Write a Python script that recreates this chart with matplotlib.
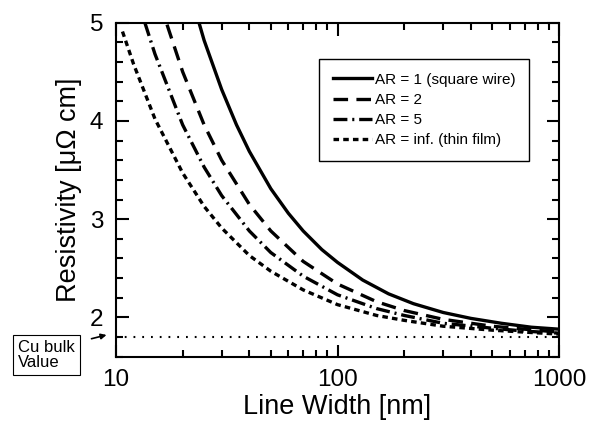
import numpy as np
import matplotlib
matplotlib.use("Agg")
import matplotlib.pyplot as plt

plt.rcParams['font.family'] = ['Liberation Sans', 'DejaVu Sans']
plt.rcParams['lines.scale_dashes'] = False

# values (line width in nm, resistivity in uOhm cm)
w_ar1 = [23.7, 25, 30, 35, 40, 50, 60, 70, 85, 100, 130, 170, 220, 300, 400, 550, 750, 1000]
r_ar1 = [5.0, 4.82, 4.32, 3.96, 3.69, 3.31, 3.06, 2.88, 2.69, 2.56, 2.38, 2.24, 2.14, 2.05, 1.99, 1.94, 1.90, 1.88]

w_ar2 = [17, 20, 25, 30, 40, 50, 70, 100, 150, 200, 300, 500, 700, 1000]
r_ar2 = [4.98, 4.5, 3.96, 3.6, 3.15, 2.88, 2.57, 2.34, 2.16, 2.07, 1.98, 1.91, 1.88, 1.85]

w_ar5 = [13.5, 15, 20, 25, 30, 40, 50, 70, 100, 150, 200, 300, 500, 700, 1000]
r_ar5 = [5.0, 4.68, 3.96, 3.53, 3.24, 2.88, 2.66, 2.42, 2.23, 2.09, 2.02, 1.94, 1.89, 1.86, 1.84]

w_inf = [10.7, 12, 15, 20, 25, 30, 40, 50, 70, 100, 150, 200, 300, 500, 700, 1000]
r_inf = [4.91, 4.58, 4.02, 3.47, 3.13, 2.91, 2.63, 2.47, 2.28, 2.13, 2.02, 1.97, 1.91, 1.87, 1.85, 1.83]

cu_bulk = 1.8

labels = ['AR = 1 (square wire)', 'AR = 2', 'AR = 5', 'AR = inf. (thin film)']

fig = plt.figure(figsize=(6, 4.28), dpi=100)
ax = fig.add_axes([0.1933, 0.1666, 0.7384, 0.7804])

lw = 2.4
ax.plot(w_ar1, r_ar1, color='black', lw=lw, label=labels[0])
ax.plot(w_ar2, r_ar2, color='black', lw=lw, dashes=(10.5, 6), label=labels[1])
ax.plot(w_ar5, r_ar5, color='black', lw=lw, dashes=(10, 3.5, 1.5, 3.5), label=labels[2])
ax.plot(w_inf, r_inf, color='black', lw=lw, dashes=(4, 3), label=labels[3])
ax.axhline(cu_bulk, color='black', lw=1.5, dashes=(1.3, 5))

ax.set_xscale('log')
ax.set_xlim(10, 1000)
ax.set_ylim(1.6, 5)
ax.set_yticks([2, 3, 4, 5])
ax.set_yticks(np.arange(1.6, 5.01, 0.2), minor=True)

for s in ax.spines.values():
    s.set_linewidth(1.5)
ax.tick_params(which='both', direction='in', top=True, right=True, width=1.5)
ax.tick_params(which='major', length=9, labelsize=17.5, pad=9)
ax.tick_params(which='minor', length=5)
ax.xaxis.set_major_formatter(matplotlib.ticker.FuncFormatter(lambda v, p: f"{v:g}"))

ax.set_xlabel('Line Width [nm]', fontsize=19.5, labelpad=2)
ax.set_ylabel('Resistivity [\u03bc\u03a9 cm]', fontsize=19.5, labelpad=6)

leg = ax.legend(loc='upper right', bbox_to_anchor=(0.932, 0.891), fontsize=11,
                handlelength=2.6, handletextpad=0.15, labelspacing=0.4,
                borderpad=0.9, borderaxespad=0, fancybox=False, framealpha=1,
                edgecolor='black')
leg.get_frame().set_linewidth(1.0)

fig.text(0.03, 0.135, 'Cu bulk\nValue', fontsize=12, va='bottom', ha='left',
         linespacing=1.05,
         bbox=dict(boxstyle='square,pad=0.3', fc='white', ec='black', lw=0.8))
ax.annotate('', xy=(0.182, 0.219), xycoords='figure fraction',
            xytext=(0.148, 0.207), textcoords='figure fraction',
            arrowprops=dict(arrowstyle='-|>', color='black', lw=1.2, mutation_scale=8))

fig.savefig('out.png', dpi=100)
